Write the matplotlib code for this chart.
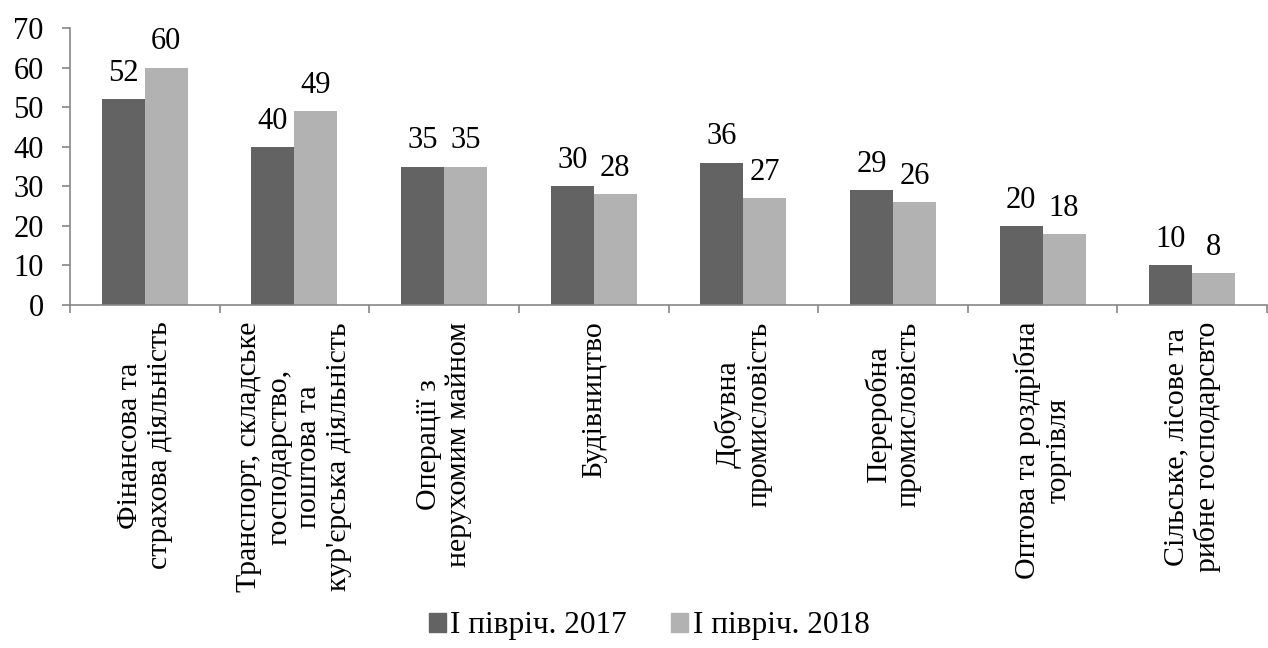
import numpy as np
import matplotlib
matplotlib.use("Agg")
from matplotlib import pyplot as plt
from matplotlib.patches import Patch

plt.rcParams['font.family'] = ['Liberation Serif', 'DejaVu Serif']

categories = ["Фінансова та\nстрахова діяльність",
              "Транспорт, складське\nгосподарство,\nпоштова та\nкур'єрська діяльність",
              "Операції з\nнерухомим майном",
              "Будівництво",
              "Добувна\nпромисловість",
              "Переробна\nпромисловість",
              "Оптова та роздрібна\nторгівля",
              "Сільське, лісове та\nрибне господарсвто"]
values_2017 = [52, 40, 35, 30, 36, 29, 20, 10]
values_2018 = [60, 49, 35, 28, 27, 26, 18, 8]
series_names = ["I півріч. 2017", "I півріч. 2018"]
colors = ["#636363", "#b2b2b2"]

fig = plt.figure(figsize=(12.68, 6.48), dpi=100)
ax = fig.add_axes([70/1268, 343/648, 1197/1268, 277/648])

x = np.arange(len(categories))
w = 0.287
b1 = ax.bar(x - w/2, values_2017, width=w, color=colors[0])
b2 = ax.bar(x + w/2, values_2018, width=w, color=colors[1])

fs = 22
for bars, vals in [(b1, values_2017), (b2, values_2018)]:
    for rect, v in zip(bars, vals):
        ax.annotate(str(v), (rect.get_x() + rect.get_width()/2, v),
                    xytext=(0, 8), textcoords="offset points",
                    ha="center", va="bottom", fontsize=fs)

ax.set_xlim(-0.5, len(categories) - 0.5)
ax.set_ylim(0, 70)
ax.set_yticks(range(0, 71, 10))
ax.tick_params(axis='y', labelsize=fs, length=6, width=1.2, color="#868686", pad=13)
ax.set_xticks(x)
ax.set_xticklabels(categories, rotation=90, fontsize=21.5, ha="center", va="top",
                   multialignment="center", linespacing=1.2)
ax.tick_params(axis='x', which='major', length=0, pad=12)
ax.set_xticks(np.arange(-0.5, len(categories)), minor=True)
ax.tick_params(axis='x', which='minor', length=6, width=1.2, color="#868686")

for s in ["top", "right"]:
    ax.spines[s].set_visible(False)
for s in ["left", "bottom"]:
    ax.spines[s].set_color("#868686")
    ax.spines[s].set_linewidth(1.2)

handles = [Patch(color=c, label=n) for c, n in zip(colors, series_names)]
fig.legend(handles=handles, loc="center", bbox_to_anchor=(649/1268, 1 - 626/648),
           ncol=2, frameon=False, fontsize=22.5, handlelength=0.55, handleheight=0.55,
           handletextpad=0.15, columnspacing=1.4)

fig.savefig("out.png", dpi=100)
